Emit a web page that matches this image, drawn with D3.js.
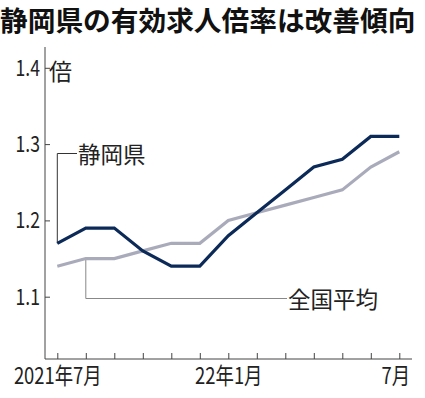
<!DOCTYPE html>
<html><head><meta charset="utf-8">
<script src="https://cdn.jsdelivr.net/npm/d3@7"></script>
<style>
html,body{margin:0;padding:0;background:#fff;}
text{font-family:"Noto Sans CJK JP","Noto Sans",sans-serif;}
</style></head>
<body><svg id="c" width="425" height="398"></svg>
<script>
const months = ["2021-07","2021-08","2021-09","2021-10","2021-11","2021-12","2022-01","2022-02","2022-03","2022-04","2022-05","2022-06","2022-07"];
const shizuoka = [1.17,1.19,1.19,1.16,1.14,1.14,1.18,1.21,1.24,1.27,1.28,1.31,1.31];
const national = [1.14,1.15,1.15,1.16,1.17,1.17,1.20,1.21,1.22,1.23,1.24,1.27,1.29];
const yTicks = [1.1,1.2,1.3,1.4];
const xLabels = {"2021-07":"2021年7月","2022-01":"22年1月","2022-07":"7月"};
const title = "静岡県の有効求人倍率は改善傾向";
const unit = "倍";
const seriesNames = ["静岡県","全国平均"];

const svg = d3.select("#c");
const x = d3.scalePoint().domain(months).range([57.3, 399.3]);
const y = d3.scaleLinear().domain([1.1, 1.4]).range([296.7, 67.8]);
const axisLeftX = 45, axisBottomY = 359;
const squeeze = 0.8;

svg.append("text").attr("x", 0).attr("y", 31).attr("font-size", 27.7)
  .attr("font-weight", 700).attr("fill", "#111").text(title);

// y axis
const ya = svg.append("g").attr("transform", `translate(${axisLeftX},0)`)
  .call(d3.axisLeft(y).tickValues(yTicks).tickFormat(d3.format(".1f")).tickSizeInner(-5).tickPadding(0));
ya.select(".domain").remove();
ya.selectAll(".tick line").attr("stroke", "#444");
ya.selectAll(".tick text").attr("font-size", 22).attr("fill", "#222")
  .attr("font-family", '"Noto Sans CJK JP",sans-serif')
  .attr("x", -5 / squeeze).attr("y", 7.5).attr("dy", null)
  .attr("transform", `scale(${squeeze},1)`);
svg.append("line").attr("x1", axisLeftX).attr("x2", axisLeftX).attr("y1", 47).attr("y2", axisBottomY).attr("stroke", "#444");
svg.append("text").attr("x", 49).attr("y", 80).attr("font-size", 23).attr("fill", "#222").text(unit);

// x axis
const xa = svg.append("g").attr("transform", `translate(0,${axisBottomY})`)
  .call(d3.axisBottom(x).tickSizeInner(-6).tickSizeOuter(0).tickPadding(0).tickFormat(d => xLabels[d] || ""));
xa.select(".domain").remove();
xa.selectAll(".tick line").attr("stroke", "#444");
xa.selectAll(".tick text").attr("font-size", 23).attr("fill", "#222")
  .attr("font-family", '"Noto Sans CJK JP",sans-serif')
  .attr("y", 24.5).attr("dy", null)
  .attr("transform", `scale(${squeeze},1)`);
xa.selectAll(".tick text").filter(d => d === "2022-07").attr("x", -4 / squeeze);
svg.append("line").attr("x1", axisLeftX).attr("x2", 412).attr("y1", axisBottomY).attr("y2", axisBottomY).attr("stroke", "#444");

// leader lines
const lead1x = x(months[0]);
svg.append("path").attr("fill", "none").attr("stroke", "#333").attr("stroke-width", 1)
  .attr("d", `M${lead1x},${y(shizuoka[0])} V153.5 H77`);
svg.append("text").attr("x", 78).attr("y", 163).attr("font-size", 22.5).attr("fill", "#222").text(seriesNames[0]);
const lead2x = x(months[1]);
svg.append("path").attr("fill", "none").attr("stroke", "#888").attr("stroke-width", 1)
  .attr("d", `M${lead2x},${y(national[1])} V298.5 H287`);
svg.append("text").attr("x", 288).attr("y", 308).attr("font-size", 22.5).attr("fill", "#222").text(seriesNames[1]);

const line = d3.line().x((d, i) => x(months[i])).y(d => y(d));
svg.append("path").datum(national).attr("fill", "none").attr("stroke", "#a9abbb").attr("stroke-width", 3.2)
  .attr("stroke-linejoin", "miter").attr("d", line);
svg.append("path").datum(shizuoka).attr("fill", "none").attr("stroke", "#0c2a58").attr("stroke-width", 3.2)
  .attr("stroke-linejoin", "miter").attr("d", line);
</script></body></html>
